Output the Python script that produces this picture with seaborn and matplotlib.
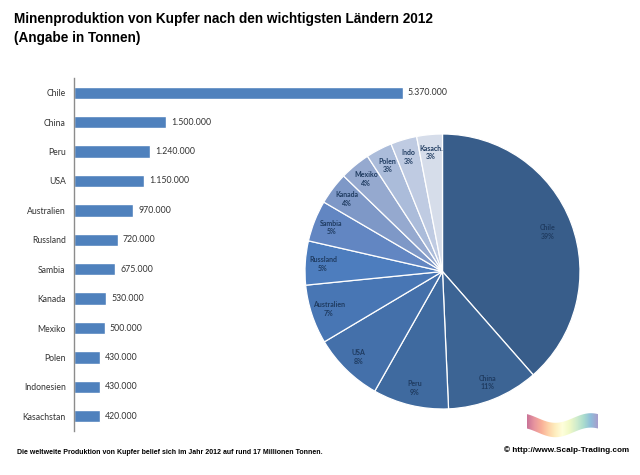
import numpy as np
import pandas as pd
import matplotlib
matplotlib.use("Agg")
import matplotlib.pyplot as plt
import seaborn as sns
from matplotlib.path import Path
from matplotlib.patches import PathPatch

# ---- data ----
countries = ["Chile", "China", "Peru", "USA", "Australien", "Russland", "Sambia",
             "Kanada", "Mexiko", "Polen", "Indonesien", "Kasachstan"]
tonnes = [5370000, 1500000, 1240000, 1150000, 970000, 720000, 675000,
          530000, 500000, 430000, 430000, 420000]
pie_labels = ["Chile", "China", "Peru", "USA", "Australien", "Russland", "Sambia",
              "Kanada", "Mexiko", "Polen", "Indo", "Kasach."]
pie_colors = ["#385D8A", "#3C6494", "#3F6A9F", "#4470AA", "#4876B4", "#4D7DBE",
              "#6286C2", "#7E98C7", "#95A9CF", "#ABBCDA", "#BFCBE2", "#D6DDEA"]
title = "Minenproduktion von Kupfer nach den wichtigsten Ländern 2012\n(Angabe in Tonnen)"
footer = "Die weltweite Produktion von Kupfer belief sich im Jahr 2012 auf rund 17 Millionen Tonnen."
source = "© http://www.Scalp-Trading.com"

sns.set_theme(style="white")
plt.rcParams["font.family"] = ["DejaVu Sans"]

W, H = 640, 475
fig = plt.figure(figsize=(W / 100, H / 100), dpi=100)
fig.patch.set_facecolor("white")

def box(x0, y0, x1, y1):
    return [x0 / W, 1 - y1 / H, (x1 - x0) / W, (y1 - y0) / H]

# ---- bar chart ----
df = pd.DataFrame({"Land": countries, "Tonnen": tonnes})
axb = fig.add_axes(box(74, 78, 474, 431))
sns.barplot(data=df, y="Land", x="Tonnen", orient="h", color="#4F81BD",
            saturation=1, width=0.42, ax=axb)
axb.set_xlim(0, 5370000 * 400 / 329)
axb.set_ylim(len(countries) - 0.5, -0.5)
axb.set_xlabel("")
axb.set_ylabel("")
axb.set_xticks([])
for s in ["top", "right", "bottom"]:
    axb.spines[s].set_visible(False)
axb.spines["left"].set_color("#8C8C8C")
axb.spines["left"].set_linewidth(1.0)
axb.tick_params(axis="y", length=0, pad=6, labelsize=6.2, labelcolor="#333333")
for lbl in axb.get_yticklabels():
    lbl.set_fontfamily("Lato")
for i, v in enumerate(tonnes):
    axb.text(v + 80000, i, f"{v:,}".replace(",", "."), va="center", ha="left",
             fontsize=6.3, color="#333333", fontfamily="Lato")

# ---- pie chart ----
axp = fig.add_axes(box(305, 134, 580, 409))
wedges, _ = axp.pie(tonnes, colors=pie_colors, startangle=90, counterclock=False,
                    radius=1.0, wedgeprops=dict(edgecolor="white", linewidth=0.9))
axp.set_xlim(-1.0, 1.0)
axp.set_ylim(-1.0, 1.0)
axp.set_aspect("equal")
total = sum(tonnes)
for w, name, v in zip(wedges, pie_labels, tonnes):
    ang = np.deg2rad((w.theta1 + w.theta2) / 2)
    r = 0.82 if v / total > 0.2 else 0.87
    axp.text(r * np.cos(ang), r * np.sin(ang), f"{name}\n{round(100 * v / total)}%",
             ha="center", va="center", fontsize=5, fontweight="bold",
             color="#1F3B60", fontfamily="Lato", linespacing=1.3)

# ---- texts ----
fig.text(14 / W, 1 - 12 / H, title, ha="left", va="top", fontsize=9.8,
         fontweight="bold", fontfamily="Liberation Sans", color="black", linespacing=1.45)
fig.text(17 / W, 1 - 453 / H, footer, ha="left", va="center", fontsize=5.05,
         fontweight="bold", fontfamily="Liberation Sans", color="black")
fig.text(629 / W, 1 - 450 / H, source, ha="right", va="center", fontsize=5.9,
         fontweight="bold", fontfamily="Liberation Sans", color="black")

# ---- decorative rainbow ribbon logo ----
axl = fig.add_axes(box(527, 410, 598, 442))
axl.set_axis_off()
grad = np.linspace(0, 1, 200).reshape(1, -1)
im = axl.imshow(np.vstack([grad] * 10), extent=[0, 1, 0, 1], aspect="auto",
                cmap="Spectral", alpha=0.55)
t = np.linspace(0, 1, 60)
top = 0.75 + 0.15 * np.sin(np.pi * 2 * t + np.pi * 0.7)
bot = top - 0.45
verts = list(zip(t, top)) + list(zip(t[::-1], bot[::-1]))
path = Path(verts + [verts[0]], [Path.MOVETO] + [Path.LINETO] * (len(verts) - 1) + [Path.CLOSEPOLY])
patch = PathPatch(path, transform=axl.transData, facecolor="none", edgecolor="none")
axl.add_patch(patch)
im.set_clip_path(patch)
axl.set_xlim(0, 1)
axl.set_ylim(0, 1)

fig.savefig("out.png", dpi=100, facecolor="white")
